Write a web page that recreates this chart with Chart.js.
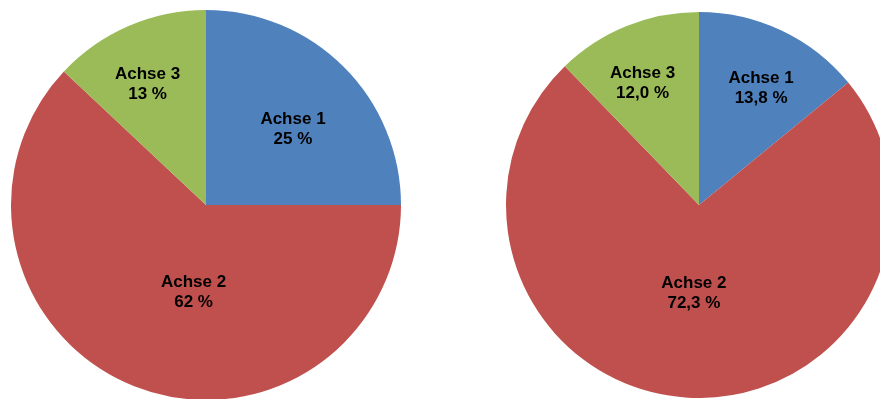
<!DOCTYPE html>
<html lang="de">
<head>
<meta charset="utf-8">
<title>Achsen</title>
<script src="https://cdn.jsdelivr.net/npm/chart.js@4.4.1/dist/chart.umd.min.js"></script>
<style>
  html, body { margin: 0; padding: 0; background: #ffffff; overflow: hidden; width: 880px; height: 399px; }
  canvas { position: absolute; display: block; }
  #pieLeft { left: 11px; top: 10px; }
  #pieRight { left: 506px; top: 12px; }
</style>
</head>
<body>
<canvas id="pieLeft" width="390" height="390"></canvas>
<canvas id="pieRight" width="386" height="386"></canvas>
<script>
// Slice names and shares (percent) for both pies
const categories = ['Achse 1', 'Achse 2', 'Achse 3'];
const leftValues = [25, 62, 13];
const rightValues = [13.8, 72.3, 12.0];
const sliceColors = ['#4F81BD', '#C0504D', '#9BBB59'];

// Draws "name / value %" inside each slice, placed in polar terms around the slice middle
const sliceLabels = {
  id: 'sliceLabels',
  afterDatasetsDraw(chart, args, opts) {
    const ctx = chart.ctx;
    const meta = chart.getDatasetMeta(0);
    const ds = chart.data.datasets[0];
    ctx.save();
    ctx.font = 'bold 17px "Liberation Sans", Arial, sans-serif';
    ctx.fillStyle = '#000000';
    ctx.textAlign = 'center';
    ctx.textBaseline = 'middle';
    meta.data.forEach((arc, i) => {
      const p = arc.getProps(['x', 'y', 'startAngle', 'endAngle', 'outerRadius'], true);
      const place = opts.placement[i];
      const mid = (p.startAngle + p.endAngle) / 2 + place.shift * Math.PI / 180;
      const cx = p.x + Math.cos(mid) * place.frac * p.outerRadius;
      const cy = p.y + Math.sin(mid) * place.frac * p.outerRadius;
      const val = ds.data[i].toFixed(opts.decimals).replace('.', ',') + ' %';
      ctx.fillText(chart.data.labels[i], cx, cy - 10);
      ctx.fillText(val, cx, cy + 10);
    });
    ctx.restore();
  }
};

function makePie(id, values, decimals, placement) {
  return new Chart(document.getElementById(id), {
    type: 'pie',
    data: {
      labels: categories,
      datasets: [{
        data: values,
        backgroundColor: sliceColors,
        borderWidth: 0,
        hoverOffset: 0,
        offset: 0
      }]
    },
    options: {
      responsive: false,
      animation: false,
      events: [],
      layout: { padding: 0 },
      plugins: {
        legend: { display: false },
        tooltip: { enabled: false },
        sliceLabels: { decimals: decimals, placement: placement }
      }
    },
    plugins: [sliceLabels]
  });
}

makePie('pieLeft', leftValues, 0, [
  { frac: 0.592, shift: 3.9 },
  { frac: 0.453, shift: -13.5 },
  { frac: 0.686, shift: -2.5 }
]);

makePie('pieRight', rightValues, 1, [
  { frac: 0.685, shift: 2.7 },
  { frac: 0.46, shift: 0 },
  { frac: 0.697, shift: -2.8 }
]);
</script>
</body>
</html>
